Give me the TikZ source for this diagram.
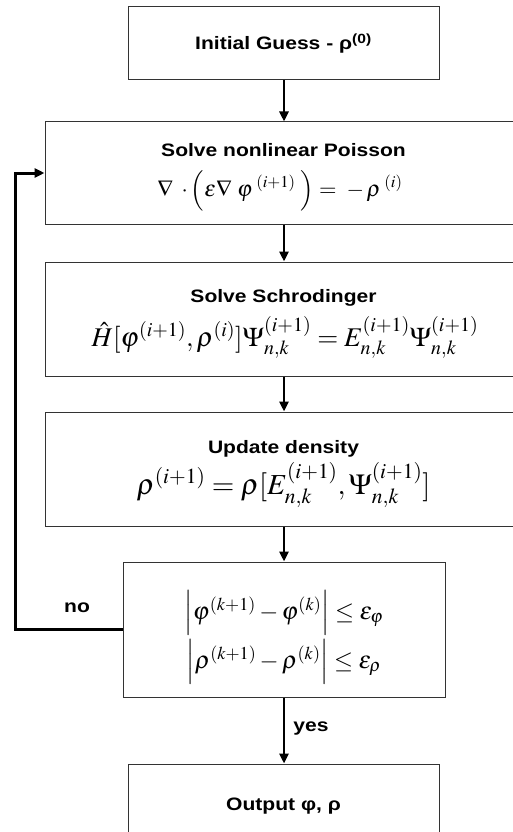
\documentclass[tikz,border=0pt]{standalone}
\usepackage{mathptmx}
\usepackage{fontspec}
\setmainfont{Liberation Sans}
\usetikzlibrary{arrows.meta}
\tikzset{
  boxnode/.style={draw=black!80, line width=1pt, inner sep=0pt, fill=white},
  flow/.style={line width=2.6pt, -{Triangle[length=10pt,width=9pt]}},
  fback/.style={line width=3pt, -{Triangle[length=10pt,width=9pt]}},
  ttl/.style={font=\fontsize{18}{21}\selectfont\bfseries, inner sep=0pt, anchor=base},
  eqn/.style={inner sep=0pt, anchor=base},
}
\newcommand{\wx}[1]{\scalebox{1.17}[1]{#1}}
\begin{document}
\begin{tikzpicture}[x=1pt,y=-1pt]
\useasboundingbox[fill=white] (0,0) rectangle (512,832);
% boxes
\node[boxnode, minimum width=311pt, minimum height=73pt] (b1) at (283.5,43.5) {};
\node[boxnode, minimum width=477pt, minimum height=102pt] (b2) at (283.5,173) {};
\node[boxnode, minimum width=477pt, minimum height=114pt] (b3) at (283.5,319) {};
\node[boxnode, minimum width=477pt, minimum height=114pt] (b4) at (283.5,469) {};
\node[boxnode, minimum width=322pt, minimum height=135pt] (b5) at (284,629.5) {};
\node[boxnode, minimum width=311pt, minimum height=73pt] (b6) at (283.5,800.5) {};
% texts
\node[ttl] (t1) at (283.5,50) {\wx{Initial Guess - ρ\textsuperscript{(0)}}};
\node[ttl] (t2) at (283.5,157) {\wx{Solve nonlinear Poisson}};
\node[eqn] (e2) at (280,196) {\fontsize{22.5}{26}\selectfont$\nabla\;\cdot\left(\varepsilon\nabla\;\varphi^{\;(i+1)}\;\right)=\;-\,\rho^{\;(i)}$};
\node[ttl] (t3) at (283.5,302) {\wx{Solve Schrodinger}};
\node[eqn] (e3) at (285,346) {\fontsize{27}{31}\selectfont$\hat{H}[\varphi^{(i+1)},\rho^{(i)}]\Psi^{(i+1)}_{n,k}=E^{(i+1)}_{n,k}\Psi^{(i+1)}_{n,k}$};
\node[ttl] (t4) at (283.5,453) {\wx{Update density}};
\node[eqn] (e4) at (283.5,494) {\fontsize{29}{33}\selectfont$\rho^{(i+1)}=\rho[E^{(i+1)}_{n,k},\Psi^{(i+1)}_{n,k}]$};
\node[eqn] (e5a) at (284,619) {\fontsize{24.5}{28}\selectfont$\left|\varphi^{(k+1)}-\varphi^{(k)}\right|\le\varepsilon_{\varphi}$};
\node[eqn] (e5b) at (284,668) {\fontsize{24.5}{28}\selectfont$\left|\rho^{(k+1)}-\rho^{(k)}\right|\le\varepsilon_{\rho}$};
\node[ttl] (t6) at (283.5,810) {\wx{Output φ, ρ}};
% labels
\node[ttl] (no) at (77,612) {\wx{no}};
\node[ttl] (yes) at (311,731) {\wx{yes}};
% connectors
\draw[flow] (b1.south -| 284,0) -- (b2.north -| 284,0);
\draw[flow] (b2.south -| 284,0) -- (b3.north -| 284,0);
\draw[flow] (b3.south -| 284,0) -- (b4.north -| 284,0);
\draw[flow] (b4.south -| 284,0) -- (b5.north -| 284,0);
\draw[flow] (b5.south -| 284,0) -- (b6.north -| 284,0);
\coordinate (fb) at (15,629.5);
\draw[fback] (b5.west) -- (b5.west -| fb) |- (b2.west);
\end{tikzpicture}
\end{document}
